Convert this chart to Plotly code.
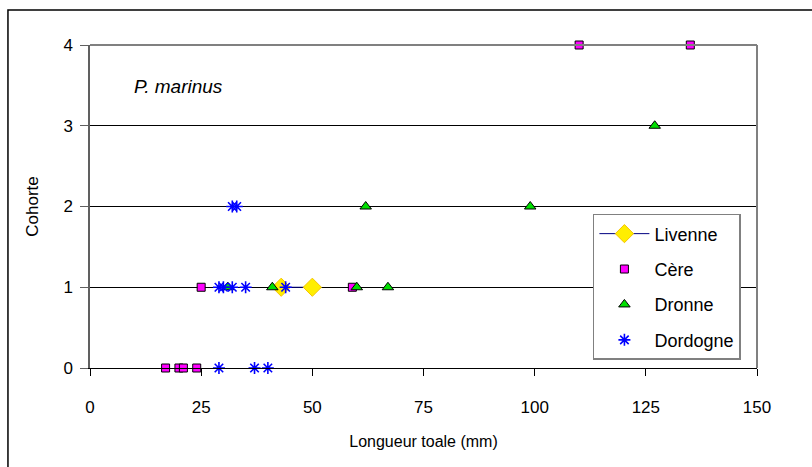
import plotly.graph_objects as go

# Total length (mm) and cohort assignment for each river
livenne_len = [43, 50]
livenne_coh = [1, 1]

cere_len = [17, 20, 21, 24, 25, 59, 110, 135]
cere_coh = [0, 0, 0, 0, 1, 1, 4, 4]

dronne_len = [31, 41, 60, 67, 62, 99, 127]
dronne_coh = [1, 1, 1, 1, 2, 2, 3]

dordogne_len = [29, 37, 40, 29, 30, 32, 35, 44, 32, 33]
dordogne_coh = [0, 0, 0, 1, 1, 1, 1, 1, 2, 2]

x_ticks = [0, 25, 50, 75, 100, 125, 150]
y_ticks = [0, 1, 2, 3, 4]

FONT = "Liberation Sans, Arial, sans-serif"

fig = go.Figure()

fig.add_trace(go.Scatter(
    x=livenne_len, y=livenne_coh, name="Livenne", mode="lines+markers",
    legendgroup="a",
    line=dict(color="#000080", width=1),
    marker=dict(symbol="diamond", size=14, color="#FFEE00",
                line=dict(color="#F5C400", width=1)),
    cliponaxis=False,
))
fig.add_trace(go.Scatter(
    x=cere_len, y=cere_coh, name="Cère", mode="markers",
    legendgroup="b",
    marker=dict(symbol="square", size=8, color="#FF00FF",
                line=dict(color="#000000", width=1)),
    cliponaxis=False,
))
fig.add_trace(go.Scatter(
    x=dronne_len, y=dronne_coh, name="Dronne", mode="markers",
    legendgroup="c",
    marker=dict(symbol="triangle-up", size=10, color="#00E000",
                line=dict(color="#000000", width=1)),
    cliponaxis=False,
))
fig.add_trace(go.Scatter(
    x=dordogne_len, y=dordogne_coh, name="Dordogne", mode="markers",
    legendgroup="d",
    marker=dict(symbol="asterisk-open", size=10, color="#0000FF",
                line=dict(color="#0000FF", width=1.6)),
    cliponaxis=False,
))

fig.update_layout(
    width=812, height=467,
    margin=dict(l=90, r=55, t=45, b=99),
    paper_bgcolor="white", plot_bgcolor="white",
    font=dict(family=FONT, size=17, color="black"),
    showlegend=True,
    legend=dict(
        x=0.754, y=0.477, xanchor="left", yanchor="top",
        bgcolor="white", bordercolor="#808080", borderwidth=1.5,
        font=dict(family=FONT, size=18),
        tracegroupgap=9, itemwidth=50,
    ),
    xaxis=dict(
        range=[0, 150], tickvals=x_ticks, showgrid=False, zeroline=False,
        showline=True, linecolor="black", linewidth=1,
        ticks="outside", ticklen=7, tickcolor="black",
        ticklabelstandoff=17,
        title=dict(text="Longueur toale (mm)", standoff=19,
                   font=dict(family=FONT, size=16)),
        tickfont=dict(family=FONT, size=17),
    ),
    yaxis=dict(
        range=[0, 4], tickvals=y_ticks, showgrid=True, gridcolor="black",
        gridwidth=1, zeroline=False,
        showline=True, linecolor="#606060", linewidth=1.5,
        ticks="outside", ticklen=8, tickcolor="#606060",
        ticklabelstandoff=4,
        title=dict(text="Cohorte", standoff=20,
                   font=dict(family=FONT, size=17)),
        tickfont=dict(family=FONT, size=17),
    ),
    shapes=[
        # grey frame on top and right of the plotting area
        dict(type="line", xref="paper", yref="paper", x0=0, x1=1, y0=1, y1=1,
             line=dict(color="#808080", width=2)),
        dict(type="line", xref="paper", yref="paper", x0=1, x1=1, y0=0, y1=1,
             line=dict(color="#808080", width=2)),
        # outer chart border
        dict(type="rect", xref="paper", yref="paper",
             x0=-0.123, x1=1.2, y0=-0.6, y1=1.108,
             line=dict(color="black", width=1.5)),
    ],
    annotations=[
        dict(text="<i>P. marinus</i>", xref="paper", yref="paper",
             x=0.063, y=0.87, xanchor="left", yanchor="middle",
             showarrow=False, font=dict(family=FONT, size=19)),
    ],
)

fig.write_html("out.html")
